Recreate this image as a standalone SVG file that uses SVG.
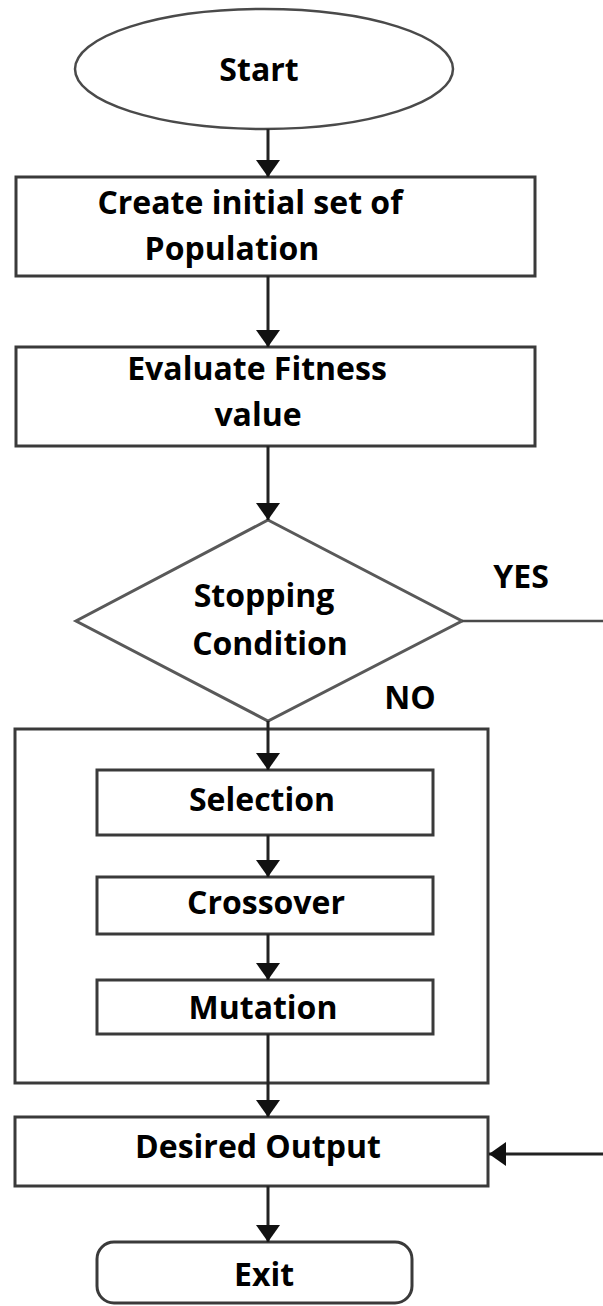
<svg xmlns="http://www.w3.org/2000/svg" width="603" height="1306" viewBox="0 0 603 1306">
  <style>
    .box { fill: #ffffff; stroke: #3a3a3a; stroke-width: 3; }
    .frame { fill: none; stroke: #3a3a3a; stroke-width: 3; }
    .soft { fill: #ffffff; stroke: #595959; stroke-width: 3; }
    .wire { fill: none; stroke: #222222; stroke-width: 3; }
    .thin { fill: none; stroke: #4a4a4a; stroke-width: 2.5; }
    .lbl { font-family: "Open Sans", "Liberation Sans", sans-serif; font-weight: bold; font-size: 32px; fill: #000000; text-anchor: middle; }
  </style>
  <defs>
    <marker id="head" viewBox="0 0 17 24" refX="17" refY="12" markerWidth="17" markerHeight="24" markerUnits="userSpaceOnUse" orient="auto">
      <path d="M0,0 L17,12 L0,24 Z" fill="#111111"/>
    </marker>
  </defs>

  <rect width="603" height="1306" fill="#ffffff"/>

  <g id="start">
    <ellipse cx="264" cy="69" rx="189" ry="60" fill="#ffffff" stroke="#4a4a4a" stroke-width="2.5"/>
    <text class="lbl" x="259" y="81">Start</text>
  </g>

  <g id="init">
    <rect class="box" x="16" y="177" width="519" height="99"/>
    <text class="lbl" x="250" y="214">Create initial set of</text>
    <text class="lbl" x="232" y="260">Population</text>
  </g>

  <g id="fitness">
    <rect class="box" x="16" y="347" width="519" height="99"/>
    <text class="lbl" x="257" y="380">Evaluate Fitness</text>
    <text class="lbl" x="258" y="426">value</text>
  </g>

  <g id="stop">
    <polygon class="soft" points="268,520 462,621 268,721 76,621"/>
    <text class="lbl" x="264" y="607">Stopping</text>
    <text class="lbl" x="270" y="655">Condition</text>
    <text class="lbl" x="521" y="588">YES</text>
    <text class="lbl" x="410" y="709">NO</text>
  </g>

  <g id="loop">
    <rect class="frame" x="15" y="729" width="473" height="354"/>
  </g>

  <g id="selection">
    <rect class="box" x="97" y="770" width="336" height="65"/>
    <text class="lbl" x="262" y="811">Selection</text>
  </g>

  <g id="crossover">
    <rect class="box" x="97" y="877" width="336" height="57"/>
    <text class="lbl" x="266" y="914">Crossover</text>
  </g>

  <g id="mutation">
    <rect class="box" x="97" y="980" width="336" height="54"/>
    <text class="lbl" x="263" y="1019">Mutation</text>
  </g>

  <g id="output">
    <rect class="box" x="15" y="1117" width="473" height="69"/>
    <text class="lbl" x="258" y="1158">Desired Output</text>
  </g>

  <g id="exit">
    <rect class="box" x="97" y="1242" width="315" height="61" rx="17" ry="17"/>
    <text class="lbl" x="264" y="1286">Exit</text>
  </g>

  <!-- connectors -->
  <g id="connectors">
    <line class="wire" x1="268" y1="129" x2="268" y2="177" marker-end="url(#head)"/>
    <line class="wire" x1="268" y1="276" x2="268" y2="347" marker-end="url(#head)"/>
    <line class="wire" x1="268" y1="446" x2="268" y2="520" marker-end="url(#head)"/>
    <line class="wire" x1="268" y1="721" x2="268" y2="770" marker-end="url(#head)"/>
    <line class="wire" x1="268" y1="835" x2="268" y2="877" marker-end="url(#head)"/>
    <line class="wire" x1="268" y1="934" x2="268" y2="980" marker-end="url(#head)"/>
    <line class="wire" x1="268" y1="1034" x2="268" y2="1117" marker-end="url(#head)"/>
    <line class="wire" x1="268" y1="1186" x2="268" y2="1242" marker-end="url(#head)"/>
    <!-- YES branch leaves the diamond and returns into Desired Output -->
    <line class="thin" x1="462" y1="621" x2="603" y2="621"/>
    <line class="wire" x1="603" y1="1154" x2="489" y2="1154" marker-end="url(#head)"/>
  </g>
</svg>
